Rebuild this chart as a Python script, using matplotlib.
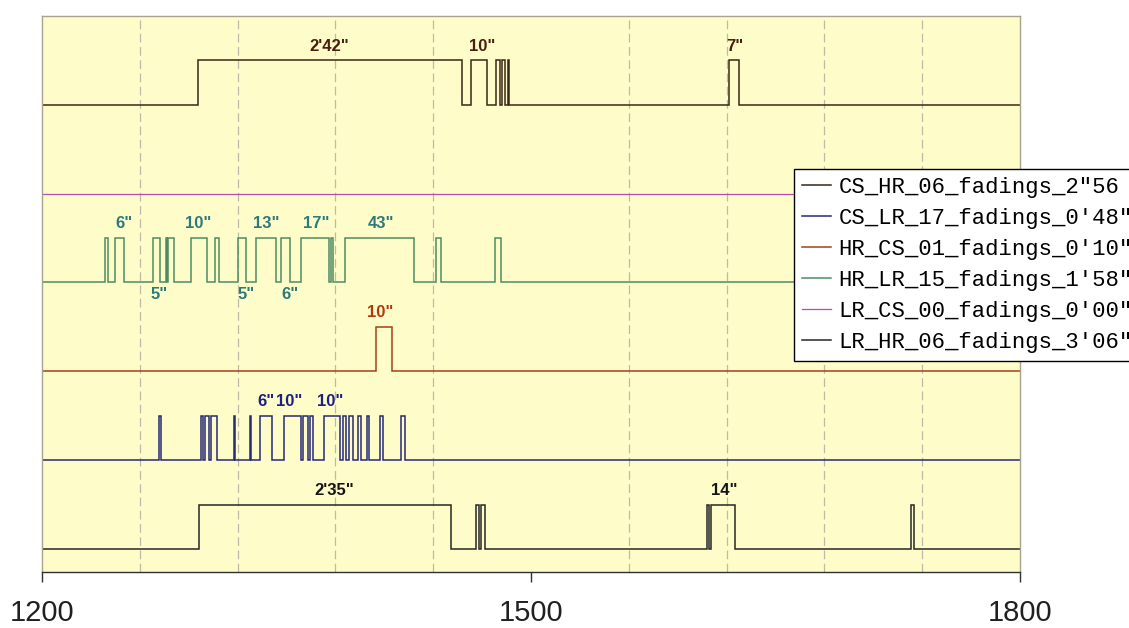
import matplotlib
matplotlib.use("Agg")
import matplotlib.pyplot as plt
import numpy as np

# fading intervals (start, end) in seconds, one list per link
cs_hr_06 = [(1295.6, 1457.7), (1463.3, 1473.1), (1478.6, 1480.7),
            (1482.3, 1484.2), (1485.7, 1486.8), (1621.3, 1627.8)]
cs_lr_17 = [(1272.0, 1272.8), (1297.3, 1298.6), (1300.1, 1302.3), (1303.4, 1307.3),
            (1317.9, 1318.7), (1327.7, 1328.5), (1334.0, 1340.8), (1348.5, 1358.7),
            (1360.1, 1363.2), (1364.7, 1366.3), (1372.8, 1382.6), (1384.7, 1386.7),
            (1388.3, 1390.8), (1393.8, 1395.9), (1399.6, 1400.4), (1407.2, 1409.2),
            (1420.4, 1422.5)]
hr_cs_01 = [(1405.2, 1415.0)]
hr_lr_15 = [(1238.6, 1240.4), (1245.0, 1250.5), (1267.8, 1272.3), (1276.0, 1276.8),
            (1277.4, 1280.9), (1291.7, 1301.3), (1306.0, 1308.7), (1320.3, 1325.4),
            (1331.0, 1343.8), (1346.5, 1352.0), (1358.7, 1376.1), (1377.1, 1378.5),
            (1385.7, 1428.2), (1441.9, 1445.0), (1478.0, 1481.3)]
lr_cs_00 = []
lr_hr_06 = [(1296.2, 1451.1), (1466.4, 1468.0), (1469.5, 1471.5),
            (1608.0, 1609.2), (1610.4, 1625.3), (1733.4, 1735.0)]

legend_names = ["CS_HR_06_fadings_2\"56", "CS_LR_17_fadings_0'48\"",
                "HR_CS_01_fadings_0'10\"", "HR_LR_15_fadings_1'58\"",
                "LR_CS_00_fadings_0'00\"", "LR_HR_06_fadings_3'06\""]

# duration labels: (text, time, above?)
cs_hr_labels = [("2'42\"", 1376, True), ('10"', 1470, True), ('7"', 1625, True)]
hr_lr_labels = [('6"', 1250.3, True), ('10"', 1295.6, True), ('13"', 1337.3, True),
                ('17"', 1368.3, True), ('43"', 1407.8, True),
                ('5"', 1271.7, False), ('5"', 1325.4, False), ('6"', 1352.0, False)]
hr_cs_labels = [('10"', 1407.5, True)]
cs_lr_labels = [('6"', 1337.2, True), ('10"', 1351.6, True), ('10"', 1377.0, True)]
lr_hr_labels = [("2'35\"", 1379, True), ('14"', 1618.6, True)]

T0, T1 = 1200, 1800
HIGH = 0.5


def step_xy(intervals, level):
    xs, ys = [T0], [level]
    for s, e in intervals:
        xs += [s, s, e, e]
        ys += [level, level + HIGH, level + HIGH, level]
    xs.append(T1)
    ys.append(level)
    return xs, ys


fig = plt.figure(figsize=(11.29, 6.28), dpi=100)
ax = fig.add_axes([42 / 1129, 1 - 572 / 628, 978 / 1129, 556 / 628])
ax.set_facecolor("#fefdc9")

# (name index, data, level, line colour, labels, label colour)
series = [
    (0, cs_hr_06, 5, "#3b2616", cs_hr_labels, "#4a1e10"),
    (4, lr_cs_00, 4, "#b44cb4", [], None),
    (3, hr_lr_15, 3, "#4f8c63", hr_lr_labels, "#2c7a7c"),
    (2, hr_cs_01, 2, "#a4401c", hr_cs_labels, "#b2380e"),
    (1, cs_lr_17, 1, "#262a78", cs_lr_labels, "#1c2080"),
    (5, lr_hr_06, 0, "#262626", lr_hr_labels, "#151515"),
]

handles = {}
for idx, data, level, color, labels, lcolor in series:
    xs, ys = step_xy(data, level)
    lw = 1.1 if data else 0.9
    (ln,) = ax.plot(xs, ys, color=color, lw=lw, solid_joinstyle="miter")
    handles[idx] = ln
    for txt, t, above in labels:
        y = level + 0.66 if above else level - 0.135
        ax.text(t, y, txt, ha="center", va="center", color=lcolor,
                fontsize=12, fontweight="bold", family="Liberation Sans")

ax.set_xlim(T0, T1)
ax.set_ylim(-0.259, 6.0)
ax.set_yticks([])
ax.set_xticks([1200, 1500, 1800])
ax.set_xticks(np.arange(1260, 1800, 60), minor=True)
ax.grid(which="minor", axis="x", color="#bdbba8", lw=0.9, linestyle=(0, (7, 3.6)))
ax.tick_params(axis="x", which="minor", length=0)
ax.tick_params(axis="x", which="major", length=7.2, width=1, color="#303030",
               pad=12.5, labelsize=21, labelcolor="#202020")
for lab in ax.get_xticklabels():
    lab.set_family("Liberation Sans")
for side in ("left", "top", "right"):
    ax.spines[side].set_color("#a8a290")
    ax.spines[side].set_linewidth(1)
ax.spines["bottom"].set_color("#303030")
ax.spines["bottom"].set_linewidth(1)

leg = fig.legend([handles[i] for i in range(6)], legend_names,
                 loc="upper left", bbox_to_anchor=(794 / 1129, 1 - 169 / 628),
                 prop={"family": "Liberation Mono", "size": 16},
                 frameon=True, fancybox=False, framealpha=1, edgecolor="black",
                 borderpad=0.35, labelspacing=0.45, handlelength=1.3,
                 handletextpad=0.35, borderaxespad=0)
leg.get_frame().set_linewidth(1)

fig.savefig("out.png", dpi=100)
